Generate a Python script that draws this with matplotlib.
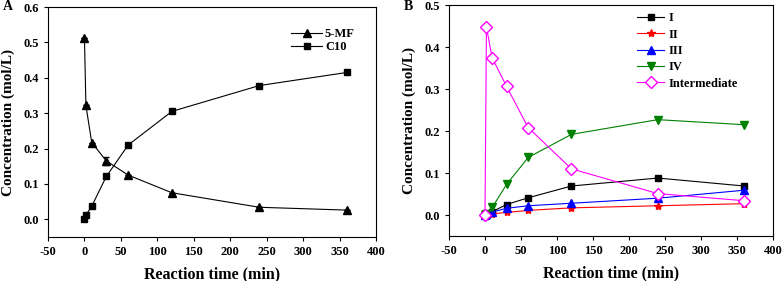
import matplotlib
matplotlib.use("Agg")
import matplotlib.pyplot as plt

plt.rcParams["font.family"] = ["Liberation Serif", "DejaVu Serif"]
plt.rcParams["font.weight"] = "bold"
plt.rcParams["axes.labelweight"] = "bold"
plt.rcParams["axes.unicode_minus"] = False

# --- Panel A data ---
time_a = [0, 2, 10, 30, 60, 120, 240, 360]
mf5 = [0.513, 0.322, 0.217, 0.165, 0.125, 0.075, 0.034, 0.026]
mf5_err = [0, 0, 0, 0.012, 0, 0, 0, 0]
c10 = [0.0, 0.012, 0.037, 0.121, 0.210, 0.305, 0.378, 0.415]

# --- Panel B data ---
time_b = [0, 2, 10, 30, 60, 120, 240, 360]
prod_i = [0.0, 0.002, 0.008, 0.025, 0.041, 0.069, 0.088, 0.069]
prod_ii = [0.0, 0.001, 0.003, 0.006, 0.011, 0.017, 0.022, 0.027]
prod_iii = [0.0, 0.002, 0.007, 0.016, 0.022, 0.028, 0.040, 0.059]
prod_iv = [0.0, 0.002, 0.018, 0.073, 0.137, 0.192, 0.227, 0.215]
intermediate = [0.0, 0.447, 0.374, 0.306, 0.208, 0.110, 0.051, 0.034]

fig = plt.figure(figsize=(7.83, 2.81), dpi=100)
ax_a = fig.add_axes([48 / 783, 44 / 281, 328 / 783, 230 / 281])
ax_b = fig.add_axes([449 / 783, 45 / 281, 324 / 783, 231 / 281])

# Panel A
ax_a.plot(time_a, mf5, color="black", marker="^", ms=6, lw=0.8, label="5-MF")
ax_a.errorbar(time_a, mf5, yerr=mf5_err, fmt="none", ecolor="black",
              capsize=2, elinewidth=0.8)
ax_a.plot(time_a, c10, color="black", marker="s", ms=5, lw=0.8, label="C10")
ax_a.set_xlim(-50, 400)
ax_a.set_ylim(-0.05, 0.6)
ax_a.set_yticks([0.0, 0.1, 0.2, 0.3, 0.4, 0.5, 0.6])
ax_a.set_xticks(range(-50, 401, 50))
ax_a.legend(loc="upper left", frameon=False, fontsize=9, handlelength=2.5,
            handletextpad=0.2, labelspacing=0.1, bbox_to_anchor=(0.707, 0.957))

# Panel B
ax_b.plot(time_b, prod_i, color="black", marker="s", ms=5, lw=0.8, label="I")
ax_b.plot(time_b, prod_ii, color="red", marker="*", ms=6, lw=0.8, label="II")
ax_b.plot(time_b, prod_iii, color="blue", marker="^", ms=6, lw=0.8, label="III")
ax_b.plot(time_b, prod_iv, color="green", marker="v", ms=6, lw=0.8, label="IV")
ax_b.plot(time_b, intermediate, color="magenta", marker="D", ms=6, lw=0.8,
          mfc="white", label="Intermediate")
ax_b.set_xlim(-50, 400)
ax_b.set_ylim(-0.05, 0.5)
ax_b.set_yticks([0.0, 0.1, 0.2, 0.3, 0.4, 0.5])
ax_b.set_xticks(range(-50, 401, 50))
ax_b.legend(loc="upper left", frameon=False, fontsize=9, handlelength=2.2,
            handletextpad=0.3, labelspacing=0.35, bbox_to_anchor=(0.545, 1.017))

for ax in (ax_a, ax_b):
    ax.set_xlabel("Reaction time (min)", fontsize=11.5, labelpad=6)
    ax.set_ylabel("Concentration (mol/L)", fontsize=11, labelpad=6)
    ax.tick_params(direction="out", length=3, labelsize=9, width=0.8)
    for lab in ax.get_xticklabels() + ax.get_yticklabels():
        lab.set_fontweight("bold")
    for sp in ax.spines.values():
        sp.set_linewidth(0.8)

fig.text(3 / 783, 1 - 7 / 281, "A", fontsize=10, fontweight="bold", va="center")
fig.text(404 / 783, 1 - 7 / 281, "B", fontsize=10, fontweight="bold", va="center")

fig.savefig("out.png", dpi=100)
